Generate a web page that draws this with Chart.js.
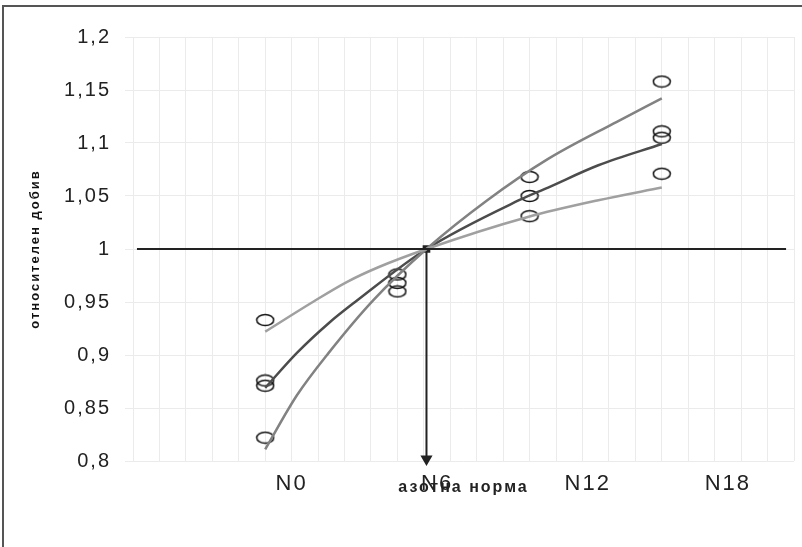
<!DOCTYPE html>
<html>
<head>
<meta charset="utf-8">
<script src="https://cdn.jsdelivr.net/npm/chart.js@4"></script>
<style>
  html, body { margin: 0; padding: 0; background: #fff; }
  #wrap { position: relative; width: 802px; height: 547px; }
  #frame { position: absolute; left: 2px; top: 5px; right: 0; bottom: 0;
           border-left: 2px solid #555; border-top: 2px solid #555; pointer-events: none; }
</style>
</head>
<body>
<div id="wrap">
  <canvas id="chart" width="802" height="547"></canvas>
  <div id="frame"></div>
</div>
<script>
// observed yields (circles) at each nitrogen level
const obsX = [5, 5, 5, 5, 10, 10, 10, 15, 15, 15, 20, 20, 20, 20];
const obsY = [0.933, 0.876, 0.871, 0.822, 0.976, 0.968, 0.960, 1.068, 1.050, 1.031, 1.158, 1.111, 1.105, 1.071];

// fitted curves
const lightX = [5, 6.8, 8.1, 9.3, 11.1, 14.9, 17.6, 20];
const lightY = [0.922, 0.950, 0.969, 0.983, 1.0, 1.030, 1.046, 1.058];
const darkX = [5, 6.2, 7.4, 8.4, 11.1, 14.6, 15.7, 17.6, 20];
const darkY = [0.869, 0.902, 0.930, 0.950, 1.0, 1.046, 1.058, 1.079, 1.099];
const midX = [5, 6.2, 7.4, 9.1, 11.1, 13.4, 15.7, 18.3, 20];
const midY = [0.811, 0.862, 0.902, 0.952, 1.0, 1.046, 1.085, 1.120, 1.142];

// reference line at 1 and the "norm" arrow
const baseX = [0.15, 24.7];
const baseY = [1, 1];
const arrowX = [11.1, 11.1];
const arrowY = [1.0, 0.802];

const yTickValues = [0.8, 0.85, 0.9, 0.95, 1, 1.05, 1.1, 1.15, 1.2];
const yTickLabels = ['0,8', '0,85', '0,9', '0,95', '1', '1,05', '1,1', '1,15', '1,2'];
const xLabelPos = [6, 11.5, 17.2, 22.5];
const xLabels = ['N0', 'N6', 'N12', 'N18'];

const pts = (xs, ys) => xs.map((x, i) => ({ x: x, y: ys[i] }));

// open ellipse marker like the original
const ring = document.createElement('canvas');
ring.width = 20; ring.height = 14;
const rc = ring.getContext('2d');
rc.strokeStyle = '#111';
rc.lineWidth = 1.5;
rc.beginPath();
rc.ellipse(10, 7, 8.5, 5.6, 0, 0, Math.PI * 2);
rc.stroke();

const FONT = '"Liberation Sans", Arial, sans-serif';

const spacing = {
  id: 'spacing',
  beforeDraw(chart) { chart.ctx.letterSpacing = '2px'; }
};

const curve = (xs, ys, color) => ({
  data: pts(xs, ys),
  showLine: true,
  borderColor: color,
  borderWidth: 2.5,
  pointRadius: 0,
  cubicInterpolationMode: 'monotone',
  fill: false
});

new Chart(document.getElementById('chart'), {
  type: 'scatter',
  data: {
    datasets: [
      {
        data: pts(baseX, baseY),
        showLine: true,
        borderColor: '#222',
        borderWidth: 2,
        pointRadius: 0
      },
      curve(lightX, lightY, '#a0a0a0'),
      curve(midX, midY, '#828282'),
      curve(darkX, darkY, '#4c4c4c'),
      {
        data: pts(obsX, obsY),
        pointStyle: ring,
        pointRadius: 7,
        showLine: false
      },
      {
        data: pts(arrowX, arrowY),
        showLine: true,
        borderColor: '#222',
        borderWidth: 2,
        pointStyle: ['rect', 'triangle'],
        pointRotation: [0, 180],
        pointRadius: [4, 5],
        pointBackgroundColor: '#222',
        pointBorderColor: '#222',
        clip: false
      }
    ]
  },
  options: {
    responsive: false,
    animation: false,
    layout: { padding: { left: 0, right: 7, top: 37, bottom: 0 } },
    plugins: { legend: { display: false }, tooltip: { enabled: false } },
    scales: {
      x: {
        type: 'linear',
        min: 0,
        max: 25,
        ticks: { display: false, stepSize: 1 },
        grid: { color: '#ebebeb', drawTicks: false },
        border: { display: false },
        afterFit(s) { s.height = 0; }
      },
      x2: {
        type: 'linear',
        position: 'bottom',
        min: 0,
        max: 25,
        afterBuildTicks(s) { s.ticks = xLabelPos.map(v => ({ value: v })); },
        ticks: {
          autoSkip: false,
          maxRotation: 0,
          padding: 10,
          color: '#222',
          font: { family: FONT, size: 22 },
          callback: (v, i) => xLabels[i]
        },
        grid: { display: false, drawTicks: false },
        border: { display: false },
        title: {
          display: true,
          text: 'азотна норма',
          color: '#222',
          font: { family: FONT, size: 16, weight: 'bold' },
          padding: { top: 0, bottom: 50 }
        },
        afterFit(s) { s.height = 86; }
      },
      y: {
        min: 0.8,
        max: 1.2,
        afterBuildTicks(s) { s.ticks = yTickValues.map(v => ({ value: v })); },
        ticks: {
          padding: 14,
          color: '#222',
          font: { family: FONT, size: 20 },
          callback: (v, i) => yTickLabels[i]
        },
        grid: { color: '#ebebeb', tickLength: 8 },
        border: { display: false },
        title: {
          display: true,
          text: 'относителен добив',
          color: '#111',
          font: { family: FONT, size: 13, weight: 'bold' },
          padding: { top: 28, bottom: 0 }
        },
        afterFit(s) { s.width = 133; }
      }
    }
  },
  plugins: [spacing]
});
</script>
</body>
</html>
